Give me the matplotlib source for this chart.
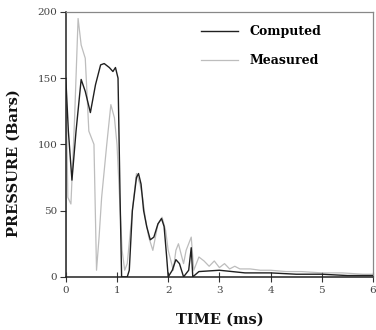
import matplotlib
matplotlib.use("Agg")
import matplotlib.pyplot as plt

# Computed pressure trace (time in ms, pressure in bars)
comp_t = [0.00, 0.05, 0.12, 0.20, 0.30, 0.38, 0.48, 0.58, 0.68, 0.75, 0.85, 0.92, 0.97, 1.02,
          1.06, 1.09, 1.20, 1.24, 1.30, 1.38, 1.42, 1.47, 1.52, 1.58, 1.65, 1.72, 1.80, 1.87,
          1.92, 1.97, 2.00, 2.08, 2.15, 2.22, 2.30, 2.40, 2.45, 2.48, 2.60, 3.00, 3.50, 4.00,
          4.50, 5.00, 5.50, 6.00]
comp_p = [150, 110, 73, 110, 149, 140, 124, 145, 160, 161, 158, 155, 158, 150,
          60, 0, 0, 5, 50, 75, 78, 70, 50, 38, 28, 30, 40, 44,
          38, 15, 0, 5, 13, 10, 0, 5, 22, 0, 4, 5, 3, 3,
          2, 2, 1, 1]

# Measured pressure trace
meas_t = [0.00, 0.01, 0.04, 0.10, 0.17, 0.24, 0.27, 0.30, 0.38, 0.45, 0.50, 0.55, 0.60,
          0.65, 0.70, 0.80, 0.88, 0.95, 1.00, 1.05, 1.10, 1.15, 1.20, 1.30, 1.38, 1.45,
          1.50, 1.55, 1.62, 1.70, 1.80, 1.88, 1.95, 2.00, 2.10, 2.15, 2.20, 2.30, 2.35,
          2.40, 2.45, 2.50, 2.55, 2.60, 2.70, 2.80, 2.90, 3.00, 3.10, 3.20, 3.30, 3.40,
          3.60, 3.80, 4.00, 4.30, 4.60, 5.00, 5.40, 5.80, 6.00]
meas_p = [0, 130, 60, 55, 118, 195, 185, 175, 165, 110, 105, 100, 5,
          30, 60, 100, 130, 120, 100, 60, 20, 5, 10, 50, 78, 70,
          60, 45, 30, 20, 40, 45, 35, 20, 5, 20, 25, 10, 20,
          25, 30, 5, 10, 15, 12, 8, 12, 7, 10, 6, 8, 6,
          6, 5, 5, 4, 4, 3, 3, 2, 2]

x_ticks = [0, 1, 2, 3, 4, 5, 6]
y_ticks = [0, 50, 100, 150, 200]

fig = plt.figure(figsize=(3.76, 3.30), dpi=100)
ax = fig.add_axes([0.175, 0.161, 0.817, 0.803])

ax.plot(meas_t, meas_p, color="#bdbdbd", lw=0.9, label="Measured", zorder=2)
ax.plot(comp_t, comp_p, color="#202020", lw=1.0, label="Computed", zorder=3)

ax.set_xlim(0, 6)
ax.set_ylim(0, 200)
ax.set_xticks(x_ticks)
ax.set_yticks(y_ticks)

tick_font = dict(family="DejaVu Serif", size=7.5, color="#444444")
ax.set_xticklabels([str(v) for v in x_ticks], **tick_font)
ax.set_yticklabels([str(v) for v in y_ticks], **tick_font)
ax.tick_params(axis="y", direction="out", length=4, width=0.8, color="#333333", pad=2)
ax.tick_params(axis="x", direction="inout", length=7, width=0.8, color="#333333", pad=3)

for s in ["left", "bottom"]:
    ax.spines[s].set_color("#222222")
    ax.spines[s].set_linewidth(1.1)
for s in ["top", "right"]:
    ax.spines[s].set_color("#888888")
    ax.spines[s].set_linewidth(0.9)

lab_font = dict(family="DejaVu Serif", weight="bold", size=10.5, color="#111111")
ax.set_xlabel("TIME (ms)", **lab_font)
ax.set_ylabel("PRESSURE (Bars)", **lab_font)
ax.xaxis.set_label_coords(0.5, -0.135)
ax.yaxis.set_label_coords(-0.148, 0.43)

handles, labels = ax.get_legend_handles_labels()
order = [1, 0]
leg = ax.legend([handles[i] for i in order], [labels[i] for i in order],
                loc="upper left", bbox_to_anchor=(0.44, 0.95), frameon=False,
                borderaxespad=0, borderpad=0,
                handlelength=3.0, handletextpad=0.9, labelspacing=1.3,
                prop=dict(family="DejaVu Serif", weight="bold", size=9))

fig.savefig("out.png", dpi=100)
